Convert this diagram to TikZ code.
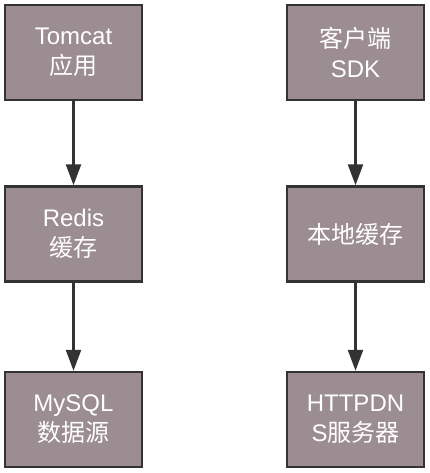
\documentclass[tikz,border=0pt]{standalone}
\usepackage{fontspec}
\setmainfont{Liberation Sans}
\newfontfamily\cjk{Noto Sans CJK SC}
\usetikzlibrary{arrows.meta}
\definecolor{boxfill}{RGB}{155,141,145}
\definecolor{boxline}{RGB}{51,51,51}
\tikzset{
  stepbox/.style={draw=boxline, line width=2.5pt, fill=boxfill, minimum width=137pt, minimum height=95pt,
    inner sep=0pt, align=center, text=white, font=\fontsize{24}{30}\selectfont},
  flow/.style={draw=boxline, line width=2.5pt, -{Triangle[length=21pt,width=15pt]}}
}
\begin{document}
\begin{tikzpicture}[x=1pt,y=-1pt]
\useasboundingbox (0,0) rectangle (430,473);
\node[stepbox] (tomcat) at (73.5,52.5) {Tomcat\\{\cjk 应用}};
\node[stepbox] (redis) at (73.5,234) {Redis\\{\cjk 缓存}};
\node[stepbox] (mysql) at (73.5,419.5) {MySQL\\{\cjk 数据源}};
\node[stepbox] (sdk) at (355.5,52.5) {{\cjk 客户端}\\SDK};
\node[stepbox] (local) at (355.5,234) {{\cjk 本地缓存}};
\node[stepbox] (dns) at (355.5,419.5) {HTTPDN\\S{\cjk 服务器}};
\draw[flow] (tomcat) -- (redis);
\draw[flow] (redis) -- (mysql);
\draw[flow] (sdk) -- (local);
\draw[flow] (local) -- (dns);
\end{tikzpicture}
\end{document}
